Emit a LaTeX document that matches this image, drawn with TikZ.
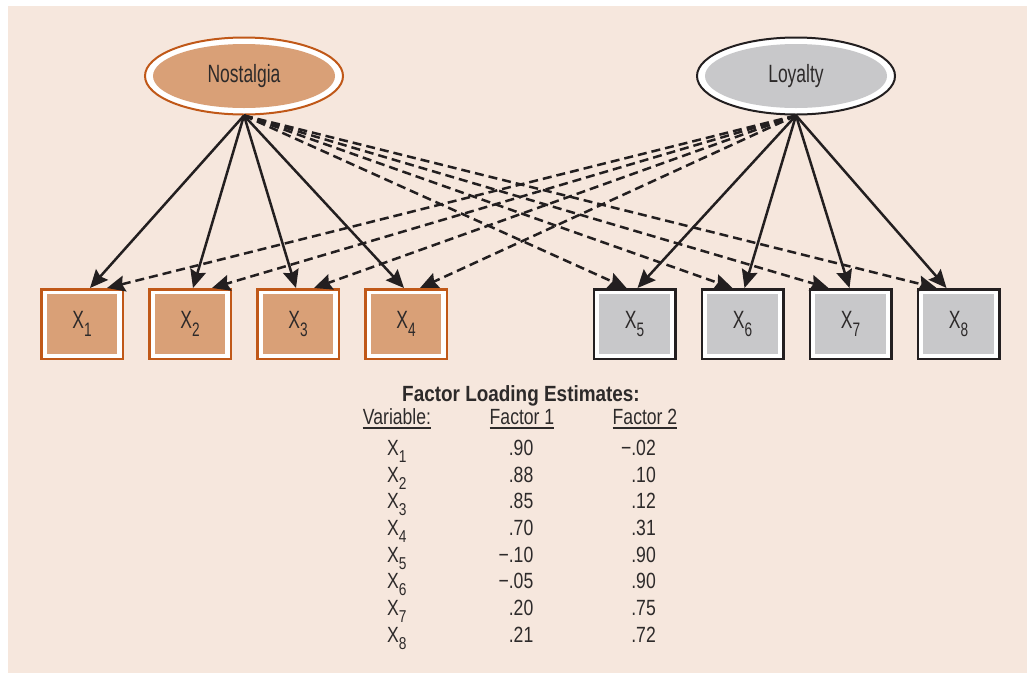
\documentclass[tikz,border=0pt]{standalone}
\usepackage{fontspec}
\setmainfont{Liberation Sans}
\newfontfamily\cnfont{Liberation Sans}[FakeStretch=0.7]
\newfontfamily\tabfont{Liberation Sans}[FakeStretch=0.8]
\newfontfamily\ttlfont{Liberation Sans}[FakeStretch=0.86]
\usetikzlibrary{arrows.meta,shapes.geometric}
\definecolor{bg}{RGB}{246,231,221}
\definecolor{orfill}{RGB}{217,160,119}
\definecolor{orline}{RGB}{192,88,24}
\definecolor{grfill}{RGB}{200,200,202}
\definecolor{dk}{RGB}{35,31,32}
\definecolor{txt}{RGB}{45,42,42}
\newcommand\subx[1]{\raisebox{-0.32em}{\scalebox{0.78}{#1}}}
\begin{document}
\begin{tikzpicture}[x=1pt,y=-1pt,
  lat/.style={ellipse, minimum width=198pt, minimum height=77pt, inner sep=0pt,
    line width=2pt, fill=white, font=\cnfont\fontsize{25}{28}\selectfont, text=txt},
  latO/.style={lat, draw=orline, path picture={\fill[orfill] (path picture bounding box.center) ellipse[x radius=91pt, y radius=32pt];}},
  latG/.style={lat, draw=dk, path picture={\fill[grfill] (path picture bounding box.center) ellipse[x radius=91pt, y radius=32pt];}},
  obs/.style={rectangle, minimum width=81.5pt, minimum height=69.5pt, inner sep=0pt,
    line width=2.5pt, fill=white, font=\cnfont\fontsize{25}{28}\selectfont, text=txt},
  obsO/.style={obs, draw=orline, path picture={\fill[orfill] ([shift={(5.5pt,4.5pt)}]path picture bounding box.south west) rectangle ([shift={(-5.5pt,-5pt)}]path picture bounding box.north east);}},
  obsG/.style={obs, draw=dk, path picture={\fill[grfill] ([shift={(5.5pt,4.5pt)}]path picture bounding box.south west) rectangle ([shift={(-5.5pt,-5pt)}]path picture bounding box.north east);}},
  sol/.style={draw=dk, line width=2.5pt, -{Stealth[length=18pt,width=16pt,inset=2.5pt]}},
  dsh/.style={sol, dash pattern=on 9pt off 5pt},
  tab/.style={inner sep=0pt, text=txt, font=\tabfont\fontsize{22}{25}\selectfont},
  ttl/.style={inner sep=0pt, text=txt, font=\ttlfont\bfseries\fontsize{22}{25}\selectfont}
]
\useasboundingbox (0,0) rectangle (1027,673);
\fill[white] (0,0) rectangle (1027,673);
\fill[bg] (8,6) rectangle (1027,673);

\node[latO] (N) at (244,76) {Nostalgia};
\node[latG] (L) at (796,76) {Loyalty};

\node[obsO] (x1) at (82,324) {X\subx{1}};
\node[obsO] (x2) at (190,324) {X\subx{2}};
\node[obsO] (x3) at (298,324) {X\subx{3}};
\node[obsO] (x4) at (406,324) {X\subx{4}};
\node[obsG] (x5) at (634.5,324) {X\subx{5}};
\node[obsG] (x6) at (742.5,324) {X\subx{6}};
\node[obsG] (x7) at (850.5,324) {X\subx{7}};
\node[obsG] (x8) at (958.5,324) {X\subx{8}};

% dashed cross loadings
\draw[dsh] (L.south) -- ([xshift=25pt]x1.north);
\draw[dsh] (L.south) -- ([xshift=22pt]x2.north);
\draw[dsh] (L.south) -- ([xshift=16pt]x3.north);
\draw[dsh] (L.south) -- ([xshift=14pt]x4.north);
\draw[dsh] (N.south) -- ([xshift=-8pt]x5.north);
\draw[dsh] (N.south) -- ([xshift=-10pt]x6.north);
\draw[dsh] (N.south) -- ([xshift=-22pt]x7.north);
\draw[dsh] (N.south) -- ([xshift=-22pt]x8.north);
% solid loadings
\draw[sol] (N.south) -- ([xshift=8pt]x1.north);
\draw[sol] (N.south) -- ([xshift=3pt]x2.north);
\draw[sol] (N.south) -- ([xshift=-2pt]x3.north);
\draw[sol] (N.south) -- ([xshift=-2pt]x4.north);
\draw[sol] (L.south) -- ([xshift=3pt]x5.north);
\draw[sol] (L.south) -- ([xshift=2pt]x6.north);
\draw[sol] (L.south) -- ([xshift=-1pt]x7.north);
\draw[sol] (L.south) -- ([xshift=-12pt]x8.north);

% table
\node[ttl, anchor=base] (title) at (521,401.5) {Factor Loading Estimates:};
\node[tab, anchor=base] (hv) at (397,424) {Variable:};
\node[tab, anchor=base] (h1) at (522,424) {Factor 1};
\node[tab, anchor=base] (h2) at (645,424) {Factor 2};
\foreach \n in {hv,h1,h2}
  \draw[txt, line width=1.1pt] ([yshift=-4pt]\n.base west) -- ([yshift=-4pt]\n.base east);

\foreach \i/\a/\b [count=\k from 0] in {1/.90/−.02, 2/.88/.10, 3/.85/.12, 4/.70/.31,
    5/−.10/.90, 6/−.05/.90, 7/.20/.75, 8/.21/.72} {
  \node[tab, anchor=base west] (v\i) at (387,455.5+26.67*\k) {X\subx{\i}};
  \node[tab, anchor=base east] (a\i) at (533.5,455.5+26.67*\k) {\a};
  \node[tab, anchor=base east] (b\i) at (656,455.5+26.67*\k) {\b};
}
\end{tikzpicture}
\end{document}
